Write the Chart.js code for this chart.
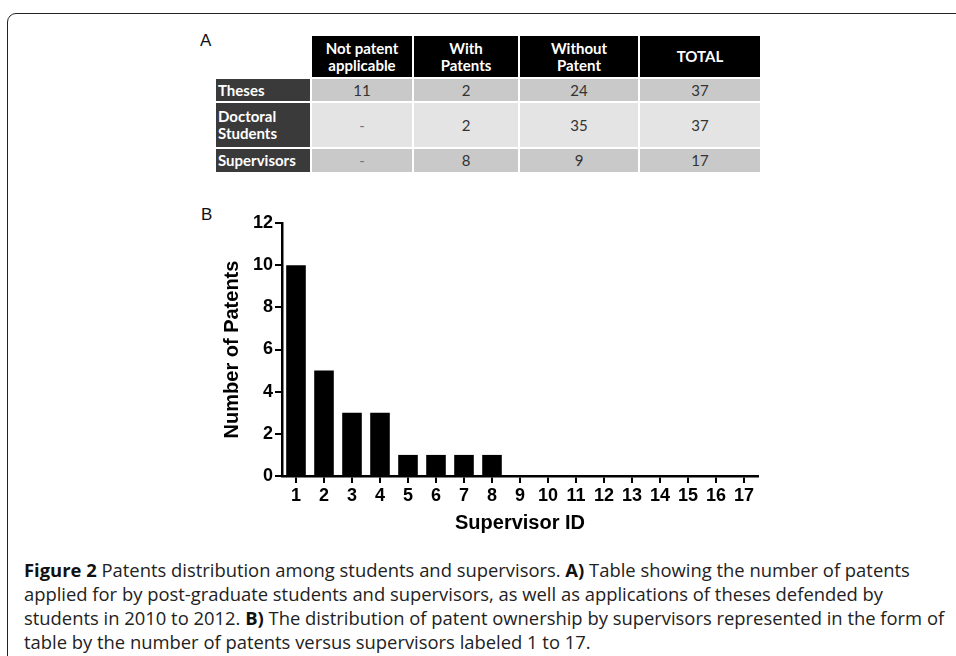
<!DOCTYPE html>
<html lang="en">
<head>
<meta charset="UTF-8" />
<title>Figure 2 - Patents distribution</title>
<style>
  html, body { margin: 0; padding: 0; background: #fff; }
  body { width: 956px; height: 656px; position: relative; overflow: hidden; font-family: "Liberation Sans", Arial, sans-serif; }
  .frame { position: absolute; left: 7px; top: 13px; width: 1000px; height: 700px; border: 1.5px solid #222; border-radius: 9px; }
  .panel-label { position: absolute; color: #111; }
  .tbl { position: absolute; left: 216px; top: 36px; display: grid; gap: 2px;
         grid-template-columns: 94px 100px 104px 118px 120px;
         grid-template-rows: 41px 22px 44px 23px;
         font-family: "Lato", "Open Sans", sans-serif; font-size: 15px; }
  .tbl div { display: flex; align-items: center; justify-content: center; text-align: center; line-height: 17px; }
  .tbl .hd { background: #000; color: #fff; font-weight: bold; }
  .tbl .rh { background: #3a3a3a; color: #fff; font-weight: bold; justify-content: flex-start; text-align: left; padding-left: 2px; }
  .tbl .c1 { background: #c9c9c9; color: #333; }
  .tbl .c2 { background: #e4e4e4; color: #333; }
  .tbl .dash { color: #777; }
  #wrap { position: absolute; left: 180px; top: 190px; width: 600px; height: 350px; }
  .caption { position: absolute; left: 24px; top: 558px; font-family: "Open Sans", sans-serif; font-size: 18.4px;
             line-height: 24px; color: #222; white-space: nowrap; }
  .caption b { font-weight: bold; color: #111; }
</style>
</head>
<body>
  <div class="frame"></div>
  <div class="panel-label" style="left:200px; top:31px; font-size:17px;">A</div>
  <div class="tbl" id="tbl"></div>
  <div class="panel-label" style="left:201px; top:205px; font-size:17px;">B</div>
  <div id="wrap"><canvas id="myChart" width="600" height="350"></canvas></div>
  <div class="caption">
    <b>Figure 2</b> Patents distribution among students and supervisors. <b>A)</b> Table showing the number of patents<br>
    applied for by post-graduate students and supervisors, as well as applications of theses defended by<br>
    students in 2010 to 2012. <b>B)</b> The distribution of patent ownership by supervisors represented in the form of<br>
    table by the number of patents versus supervisors labeled 1 to 17.
  </div>

  <script src="https://cdn.jsdelivr.net/npm/chart.js"></script>
  <script>
    // table (panel A)
    const tableCols = ["Not patent<br>applicable", "With<br>Patents", "Without<br>Patent", "TOTAL"];
    const tableRows = ["Theses", "Doctoral<br>Students", "Supervisors"];
    const thesesRow = ["11", "2", "24", "37"];
    const doctoralRow = ["-", "2", "35", "37"];
    const supervisorsRow = ["-", "8", "9", "17"];

    // bar chart (panel B)
    const supervisorIds = ["1", "2", "3", "4", "5", "6", "7", "8", "9", "10", "11", "12", "13", "14", "15", "16", "17"];
    const patentCounts = [10, 5, 3, 3, 1, 1, 1, 1, 0, 0, 0, 0, 0, 0, 0, 0, 0];

    const tbl = document.getElementById("tbl");
    let html = "<div></div>";
    tableCols.forEach((c) => { html += '<div class="hd">' + c + "</div>"; });
    [thesesRow, doctoralRow, supervisorsRow].forEach((row, i) => {
      html += '<div class="rh">' + tableRows[i] + "</div>";
      row.forEach((v) => {
        const cls = (i == 1 ? "c2" : "c1") + (v == "-" ? " dash" : "");
        html += '<div class="' + cls + '">' + v + "</div>";
      });
    });
    tbl.innerHTML = html;

    const ctx = document.getElementById("myChart");
    const axisFont = { family: "Liberation Sans", weight: "bold" };

    new Chart(ctx, {
      type: "bar",
      data: {
        labels: supervisorIds,
        datasets: [
          {
            label: "Number of Patents",
            data: patentCounts,
            backgroundColor: "#000",
            borderWidth: 0,
            categoryPercentage: 1,
            barPercentage: 0.7,
          },
        ],
      },
      options: {
        responsive: false,
        animation: false,
        layout: { padding: { left: 32, right: 22, top: 33, bottom: 0 } },
        plugins: { legend: { display: false }, tooltip: { enabled: false } },
        scales: {
          x: {
            offset: true,
            grid: { display: true, drawOnChartArea: false, offset: false, tickLength: 7, color: "#000", lineWidth: 2 },
            border: { display: true, color: "#000", width: 2.5 },
            ticks: { color: "#000", padding: 2, maxRotation: 0, autoSkip: false, font: { ...axisFont, size: 18 } },
            title: { display: true, text: "Supervisor ID", color: "#000", padding: { top: 0, bottom: 5 }, font: { ...axisFont, size: 20 } },
            afterFit: (scale) => { scale.height = 64; },
          },
          y: {
            min: 0,
            max: 12,
            grid: { display: true, drawOnChartArea: false, tickLength: 7, color: "#000", lineWidth: 2 },
            border: { display: true, color: "#000", width: 2.5 },
            ticks: { stepSize: 2, color: "#000", padding: 2, font: { ...axisFont, size: 18 } },
            title: { display: true, text: "Number of Patents", color: "#000", padding: { top: 8, bottom: 0 }, font: { ...axisFont, size: 20 } },
            afterFit: (scale) => { scale.width = 70; },
          },
        },
      },
    });
  </script>
</body>
</html>
